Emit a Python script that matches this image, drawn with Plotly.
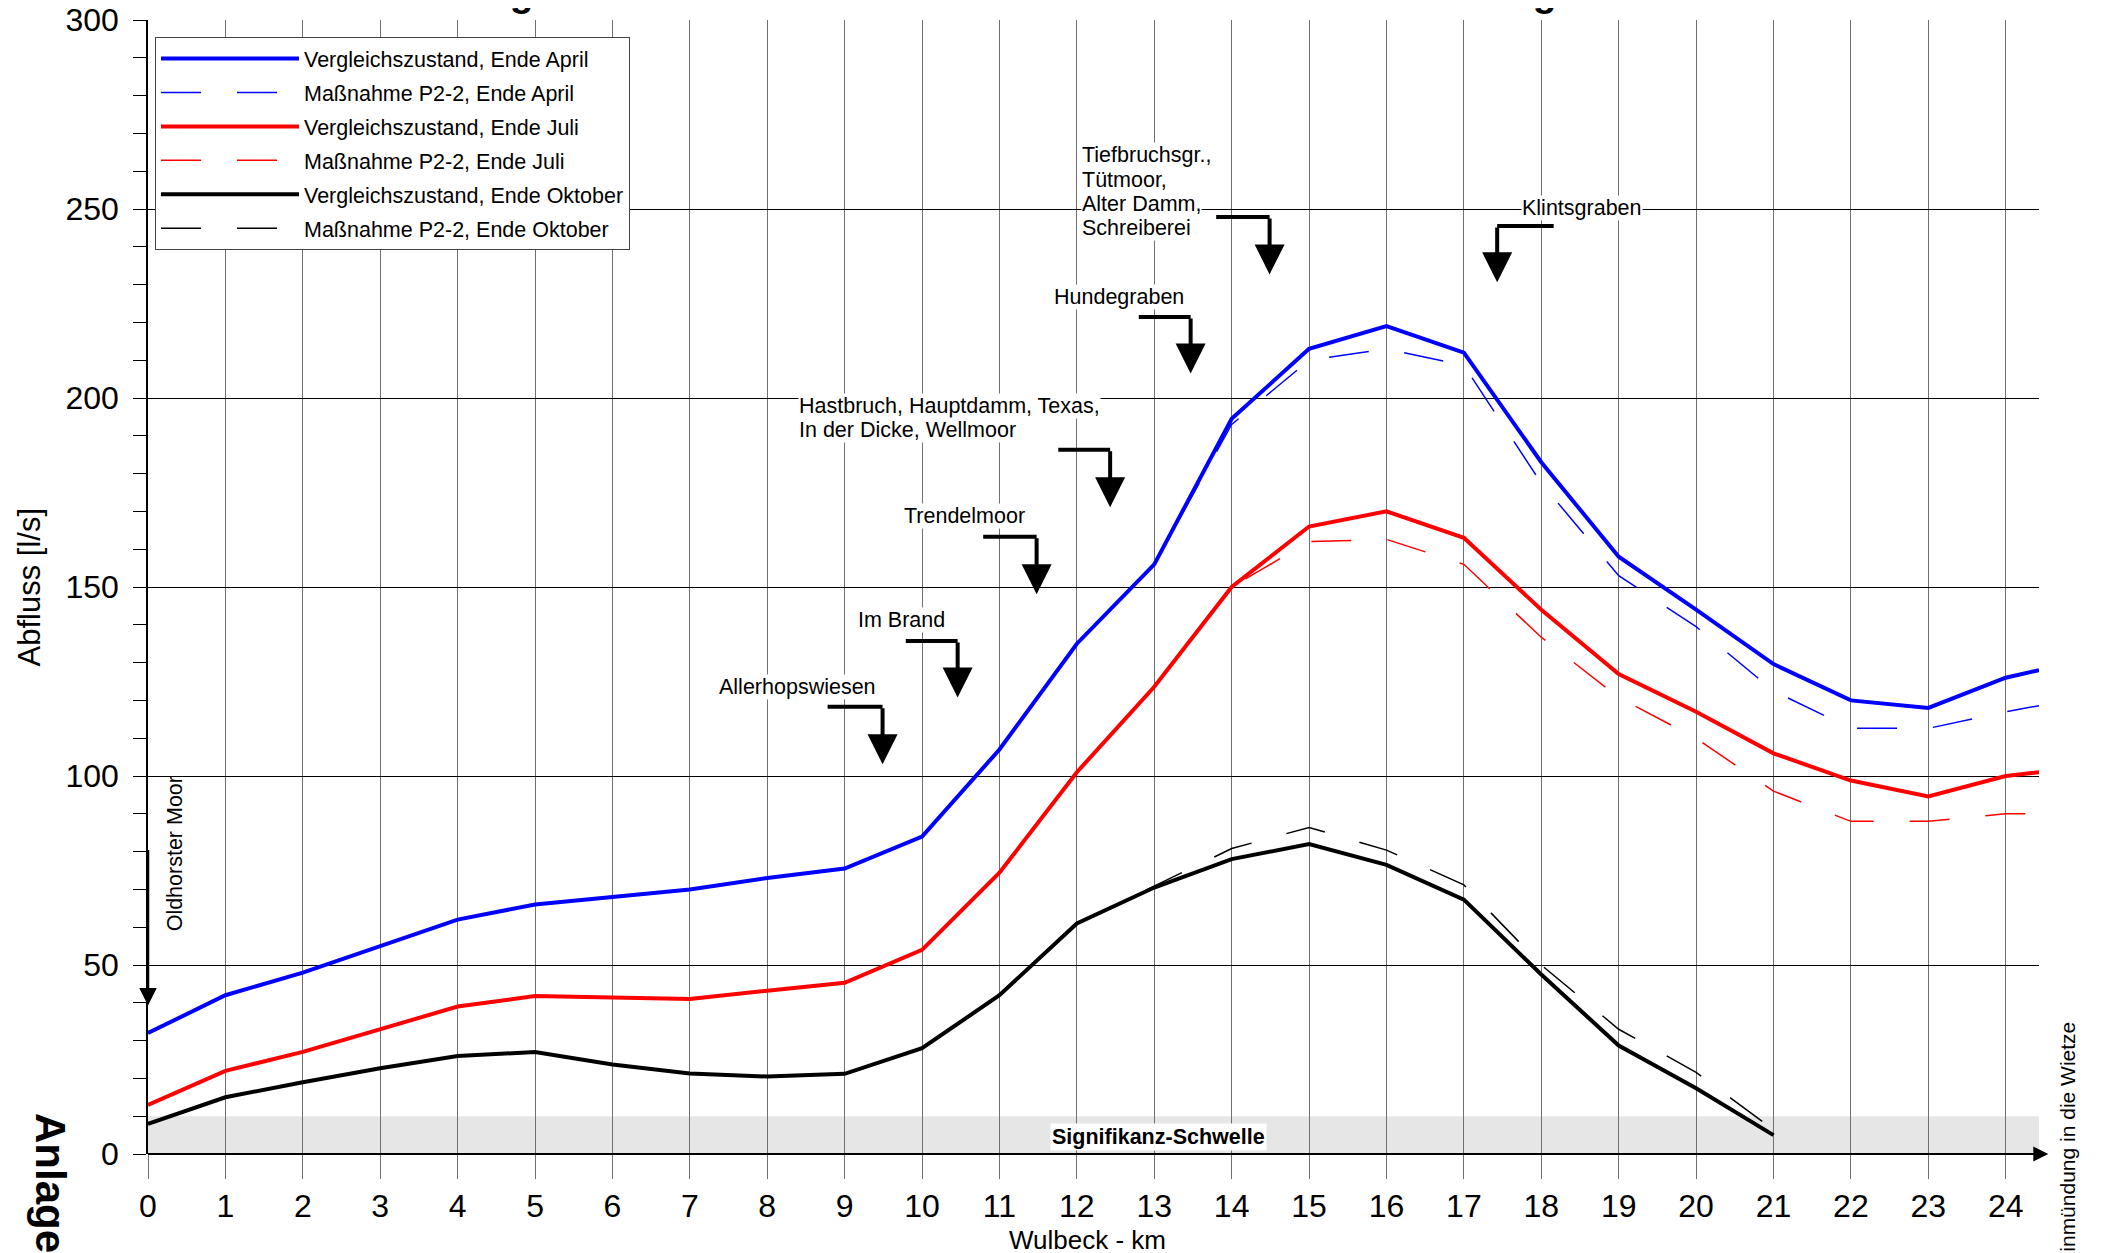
import plotly.graph_objects as go

# ---------------- data ----------------
km = [0, 1, 2, 3, 4, 5, 6, 7, 8, 9, 10, 11, 12, 13, 14, 15, 16, 17, 18, 19, 20, 21, 22, 23, 24, 24.43]
km_okt = [0, 1, 2, 3, 4, 5, 6, 7, 8, 9, 10, 11, 12, 13, 14, 15, 16, 17, 18, 19, 20, 21]

april_vgl = [32, 42, 48, 55, 62, 66, 68, 70, 73, 75.5, 84, 107, 135, 156, 194.5, 213, 219, 212, 183, 158, 144, 129.6, 120, 118, 126, 128]
april_p22 = [32, 42, 48, 55, 62, 66, 68, 70, 73, 75.5, 84, 107, 135, 156, 193, 210, 213, 208.6, 177.5, 153, 139.5, 122.5, 112.6, 112.6, 117, 118.6]
juli_vgl = [13, 22, 27, 33, 39, 41.8, 41.4, 41, 43.2, 45.3, 54, 74.4, 101, 123.6, 150, 166, 170, 163, 144, 127, 117, 106, 98.8, 94.6, 100, 101]
juli_p22 = [13, 22, 27, 33, 39, 41.8, 41.4, 41, 43.2, 45.3, 54, 74.4, 101, 123.6, 150, 162, 162.6, 156, 136.7, 120.8, 110, 96, 88, 88, 90, 90]
okt_vgl = [8, 15, 19, 22.7, 25.9, 27, 23.7, 21.3, 20.5, 21.2, 28, 42, 61, 70.5, 78, 82, 76.5, 67.3, 47.5, 28.7, 17.4, 5]
okt_p22 = [8, 15, 19, 22.7, 25.9, 27, 23.7, 21.3, 20.5, 21.2, 28, 42, 61, 71, 80.8, 86.4, 80.4, 71.2, 50, 33, 21.6, 6.4]

series_names = [
    "Vergleichszustand, Ende April",
    "Maßnahme P2-2, Ende April",
    "Vergleichszustand, Ende Juli",
    "Maßnahme P2-2, Ende Juli",
    "Vergleichszustand, Ende Oktober",
    "Maßnahme P2-2, Ende Oktober",
]

x_ticks = list(range(0, 25))
y_ticks = [0, 50, 100, 150, 200, 250, 300]
signif_threshold = 10
x_max = 24.43

# tributary labels: text lines, text x, text y (centre of block), x of horizontal start,
# x of arrow, y of corner, y of arrow tip, anchor
tributaries = [
    (["Allerhopswiesen"], 8.39, 123.6, 8.78, 9.49, 118.3, 103.1, "center"),
    (["Im Brand"], 9.74, 141.4, 9.79, 10.46, 135.7, 120.8, "center"),
    (["Trendelmoor"], 10.55, 168.7, 10.79, 11.48, 163.3, 148.1, "center"),
    (["Hastbruch, Hauptdamm, Texas,", "In der Dicke, Wellmoor"], 8.40, 194.8, 11.76, 12.43, 186.3, 171.1, "left"),
    (["Hundegraben"], 12.54, 226.8, 12.80, 13.47, 221.4, 206.5, "center"),
    (["Tiefbruchsgr.,", "Tütmoor,", "Alter Damm,", "Schreiberei"], 12.05, 254.6, 13.80, 14.49, 247.9, 232.7, "left"),
    (["Klintsgraben"], 18.52, 250.3, 18.16, 17.43, 245.5, 230.6, "center"),
]
LINE_STEP = 6.4  # line spacing of the multi-line labels, in l/s units

FONT = "Liberation Sans, Arial, sans-serif"
DASH = "40px,36px"
LBL = 21.5

fig = go.Figure()

styles = [
    (km, april_vgl, "#0000ff", 4, "solid"),
    (km, april_p22, "#0000ff", 1.5, DASH),
    (km, juli_vgl, "#ff0000", 4, "solid"),
    (km, juli_p22, "#ff0000", 1.5, DASH),
    (km_okt, okt_vgl, "#000000", 4, "solid"),
    (km_okt, okt_p22, "#000000", 1.5, DASH),
]
order = [1, 3, 5, 0, 2, 4]
for i in order:
    xs, ys, col, w, d = styles[i]
    fig.add_trace(go.Scatter(
        x=xs, y=ys, mode="lines", name=series_names[i],
        line=dict(color=col, width=w, dash=d),
        legendrank=i + 1, legendgroup=f"g{i}",
    ))

ann = []
shapes = [dict(type="rect", xref="x", yref="y", x0=0, x1=x_max, y0=0, y1=signif_threshold,
               fillcolor="#e6e6e6", line=dict(width=0), layer="below")]
for lines, tx, ty, hx0, hx1, yc, ytip, al in tributaries:
    n = len(lines)
    for k, t in enumerate(lines):
        yk = ty + ((n - 1) / 2 - k) * LINE_STEP
        ann.append(dict(x=tx, y=yk, xref="x", yref="y", text=t, showarrow=False,
                        xanchor=al, yanchor="middle", align="left", bgcolor="white", borderpad=0,
                        font=dict(family=FONT, size=LBL, color="black")))
    shapes.append(dict(type="line", xref="x", yref="y", x0=hx0, x1=hx1, y0=yc, y1=yc,
                       layer="above", line=dict(color="black", width=4)))
    ann.append(dict(x=hx1, y=ytip, ax=hx1, ay=yc, xref="x", yref="y", axref="x", ayref="y",
                    text="", showarrow=True, arrowhead=2, arrowsize=1.5, arrowwidth=4,
                    arrowcolor="black", standoff=0, startstandoff=0))

# Oldhorster Moor
ann.append(dict(x=0.35, y=79.3, xref="x", yref="y", text="Oldhorster Moor", textangle=-90,
                xanchor="center", yanchor="middle",
                showarrow=False, font=dict(family=FONT, size=LBL, color="black")))
ann.append(dict(x=0, y=39.3, ax=0, ay=80.8, xref="x", yref="y", axref="x", ayref="y",
                text="", showarrow=True, arrowhead=2, arrowsize=1.4, arrowwidth=2.5, arrowcolor="black"))
# Mündung arrow
ann.append(dict(x=24.55, y=0, ax=24.0, ay=0, xref="x", yref="y", axref="x", ayref="y",
                text="", showarrow=True, arrowhead=2, arrowsize=1.5, arrowwidth=2, arrowcolor="black"))
ann.append(dict(x=1.0153, y=0.009, xref="paper", yref="paper", text="Einmündung in die Wietze",
                xanchor="center", yanchor="middle",
                textangle=-90, showarrow=False, font=dict(family=FONT, size=21, color="black")))
# Signifikanz
ann.append(dict(x=13.06, y=4.6, xref="x", yref="y", text="<b>Signifikanz-Schwelle</b>",
                xanchor="center", yanchor="middle",
                showarrow=False, bgcolor="white", borderpad=1, font=dict(family=FONT, size=LBL, color="black")))
# axis titles
ann.append(dict(x=-0.0627, y=0.5, xref="paper", yref="paper", text="Abfluss [l/s]", textangle=-90,
                xanchor="center", yanchor="middle",
                showarrow=False, font=dict(family=FONT, size=31, color="black")))
ann.append(dict(x=0.497, y=-0.076, xref="paper", yref="paper", text="Wulbeck - km",
                xanchor="center", yanchor="middle",
                showarrow=False, font=dict(family=FONT, size=26, color="black")))
# Anlage (cut at the bottom edge as in the original)
ann.append(dict(x=-0.0513, y=-0.0256, xref="paper", yref="paper", text="<b>Anlage</b>", textangle=90,
                xanchor="center", yanchor="middle",
                showarrow=False, font=dict(family=FONT, size=42, color="black")))
# title (cut at the top edge as in the original)
ann.append(dict(x=0.476, y=1.0242, xref="paper", yref="paper",
                text="<b>Vergleichszustand und Maßnahmenvariante P2-2 - Gesamtgebiet</b>",
                xanchor="center", yanchor="middle",
                showarrow=False, font=dict(family=FONT, size=39, color="black")))

fig.update_layout(
    width=2101, height=1253,
    margin=dict(l=140, r=70, t=12, b=107),
    paper_bgcolor="white", plot_bgcolor="white",
    font=dict(family=FONT, color="black"),
    showlegend=True,
    legend=dict(x=0.0037, y=0.985, xanchor="left", yanchor="top",
                bgcolor="white", bordercolor="#444", borderwidth=1,
                font=dict(family=FONT, size=21.5, color="black"),
                tracegroupgap=3, itemwidth=138),
)
fig.layout.annotations = ann
fig.layout.shapes = shapes

fig.update_xaxes(range=[0, x_max], tickvals=x_ticks, ticktext=[str(v) for v in x_ticks],
                 showgrid=True, gridcolor="#707070", gridwidth=1,
                 ticks="outside", ticklen=24, tickcolor="#707070", tickwidth=1,
                 tickfont=dict(family=FONT, size=32, color="black"),
                 showline=False, zeroline=False, automargin=False, ticklabeloverflow="allow")
fig.update_yaxes(range=[0, 300], tickvals=y_ticks, ticktext=[str(v) for v in y_ticks],
                 showgrid=True, gridcolor="black", gridwidth=1,
                 ticks="outside", ticklen=13, tickcolor="black", ticklabelstandoff=8,
                 minor=dict(dtick=10, ticks="outside", ticklen=13, tickcolor="black", showgrid=False),
                 tickfont=dict(family=FONT, size=32, color="black"),
                 showline=True, linecolor="black", linewidth=1.5, zeroline=True, zerolinecolor="black",
                 zerolinewidth=1.5, automargin=False, ticklabeloverflow="allow")

fig.write_html("out.html")
